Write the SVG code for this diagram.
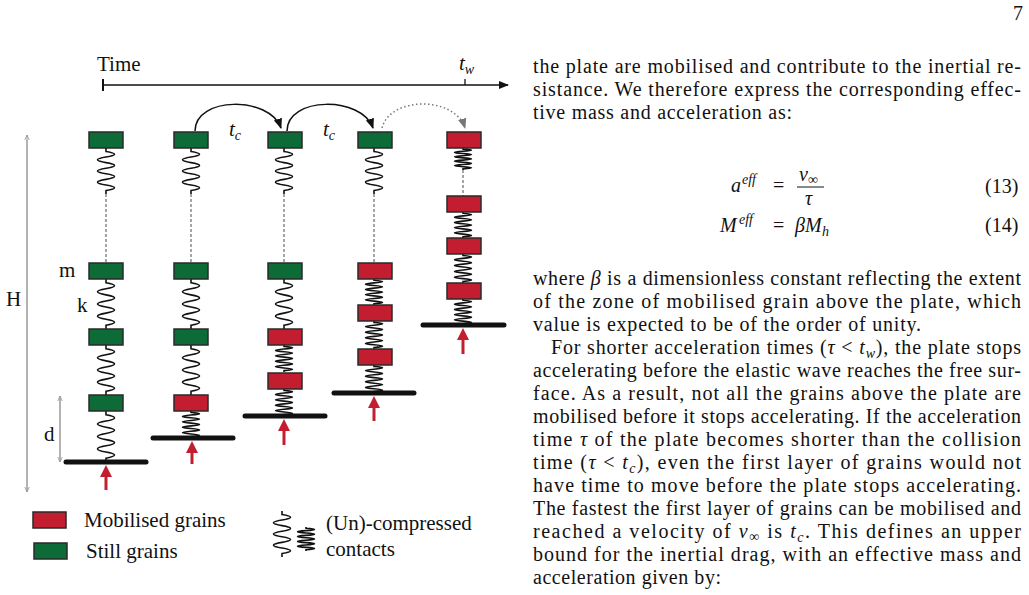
<svg xmlns="http://www.w3.org/2000/svg" width="1029" height="595" viewBox="0 0 1029 595">
<style>
.r{fill:#c21e2f;stroke:#2a2a2a;stroke-width:1.5}
.g{fill:#0d6b38;stroke:#2a2a2a;stroke-width:1.5}
.sp{fill:none;stroke:#111;stroke-width:1.6}
.ds{stroke:#777;stroke-width:1.3;stroke-dasharray:3,2}
.pl{stroke:#111;stroke-width:5;stroke-linecap:round}
.ra{stroke:#c21e2f;stroke-width:3}
.t{font-family:"Liberation Serif",serif;font-size:20px;fill:#111}
.f{font-family:"Liberation Serif",serif;font-size:21px;fill:#111}
.s{font-size:14px}
.i{font-style:italic}
</style>
<defs>
<path id="su" class="sp" vector-effect="non-scaling-stroke" d="M0,0v3q17,2.43 0,4.86q-17,2.43 0,4.86q17,2.43 0,4.86q-17,2.43 0,4.86q17,2.43 0,4.86q-17,2.43 0,4.86q17,2.43 0,4.86v3"/>
<path id="sc" class="sp" vector-effect="non-scaling-stroke" d="M0,0v2q17,2 0,4q-17,2 0,4q17,2 0,4q-17,2 0,4q17,2 0,4q-17,2 0,4q17,2 0,4q-17,2 0,4q17,2 0,4v2"/>
<marker id="ah" viewBox="0 0 10 10" refX="9" refY="5" markerWidth="7" markerHeight="7" orient="auto"><path d="M0,1L10,5L0,9z" fill="#111"/></marker>
<marker id="ag" viewBox="0 0 10 10" refX="9" refY="5" markerWidth="7" markerHeight="7" orient="auto"><path d="M0,1L10,5L0,9z" fill="#777"/></marker>
<marker id="ar" viewBox="0 0 10 10" refX="5" refY="5" markerWidth="4" markerHeight="4" orient="auto"><path d="M0,0L10,5L0,10z" fill="#c21e2f"/></marker>
<marker id="lg" viewBox="0 0 10 10" refX="9" refY="5" markerWidth="6" markerHeight="6" orient="auto"><path d="M0,1L9,5L0,9" fill="none" stroke="#888" stroke-width="1.2"/></marker>
</defs>

<g id="timeaxis">
<line x1="103" y1="85" x2="508" y2="85" stroke="#111" stroke-width="1.5" marker-end="url(#ah)"/>
<line x1="103" y1="79" x2="103" y2="91" stroke="#111" stroke-width="2"/>
<line x1="465" y1="79" x2="465" y2="85" stroke="#111" stroke-width="1.3"/>
<text class="f" x="97" y="71">Time</text>
<text class="f i" x="459" y="70">t<tspan class="s" dy="4">w</tspan></text>
</g>

<g id="dims">
<line x1="27" y1="490" x2="27" y2="135" stroke="#999" stroke-width="1" marker-end="url(#lg)"/>
<line x1="27" y1="140" x2="27" y2="492" stroke="#999" stroke-width="1" marker-end="url(#lg)"/>
<line x1="60" y1="398" x2="60" y2="462" stroke="#999" stroke-width="1" marker-end="url(#lg)"/>
<line x1="60" y1="460" x2="60" y2="396" stroke="#999" stroke-width="1" marker-end="url(#lg)"/>
<text class="f" x="6" y="306">H</text>
<text class="f" x="44" y="441">d</text>
<text class="f" x="59" y="277">m</text>
<text class="f" x="77" y="312">k</text>
</g>

<g id="connectors">
<path d="M195,131 C195,96 270,96 281,128" fill="none" stroke="#111" stroke-width="1.5" marker-end="url(#ah)"/>
<path d="M287,131 C287,96 362,96 373,128" fill="none" stroke="#111" stroke-width="1.5" marker-end="url(#ah)"/>
<path d="M382,128 C390,96 455,96 465,128" fill="none" stroke="#777" stroke-width="1.5" stroke-dasharray="1.5,2.5" marker-end="url(#ag)"/>
<text class="f i" x="229" y="136">t<tspan class="s" dy="4">c</tspan></text>
<text class="f i" x="323" y="136">t<tspan class="s" dy="4">c</tspan></text>
</g>

<g id="col1">
<use href="#su" transform="translate(106,148) scale(1,1.15)"/>
<line class="ds" x1="106" y1="194" x2="106" y2="262"/>
<use href="#su" transform="translate(106,279) scale(1,1.25)"/>
<use href="#su" transform="translate(106,345) scale(1,1.25)"/>
<use href="#su" transform="translate(106,411) scale(1,1.275)"/>
<rect class="g" x="89" y="132" width="34" height="16"/>
<rect class="g" x="89" y="263" width="34" height="16"/>
<rect class="g" x="89" y="329" width="34" height="16"/>
<rect class="g" x="89" y="395" width="34" height="16"/>
<line class="pl" x1="66" y1="462" x2="146" y2="462"/>
<line class="ra" x1="106" y1="490" x2="106" y2="471" marker-end="url(#ar)"/>
</g>

<g id="col2">
<use href="#su" transform="translate(191,148) scale(1,1.15)"/>
<line class="ds" x1="191" y1="194" x2="191" y2="262"/>
<use href="#su" transform="translate(191,279) scale(1,1.25)"/>
<use href="#su" transform="translate(191,345) scale(1,1.25)"/>
<use href="#sc" transform="translate(191,411) scale(1,0.675)"/>
<rect class="g" x="174" y="132" width="34" height="16"/>
<rect class="g" x="174" y="263" width="34" height="16"/>
<rect class="g" x="174" y="329" width="34" height="16"/>
<rect class="r" x="174" y="395" width="34" height="16"/>
<line class="pl" x1="153" y1="438" x2="233" y2="438"/>
<line class="ra" x1="192" y1="464" x2="192" y2="447" marker-end="url(#ar)"/>
</g>

<g id="col3">
<use href="#su" transform="translate(284,148) scale(1,1.15)"/>
<line class="ds" x1="284" y1="194" x2="284" y2="262"/>
<use href="#su" transform="translate(284,279) scale(1,1.25)"/>
<use href="#sc" transform="translate(284,345) scale(1,0.675)"/>
<use href="#sc" transform="translate(284,389) scale(1,0.675)"/>
<rect class="g" x="268" y="132" width="34" height="16"/>
<rect class="g" x="268" y="263" width="34" height="16"/>
<rect class="r" x="268" y="329" width="34" height="16"/>
<rect class="r" x="268" y="373" width="34" height="16"/>
<line class="pl" x1="245" y1="416" x2="325" y2="416"/>
<line class="ra" x1="284" y1="445" x2="284" y2="425" marker-end="url(#ar)"/>
</g>

<g id="col4">
<use href="#su" transform="translate(374,148) scale(1,1.15)"/>
<line class="ds" x1="374" y1="194" x2="374" y2="263"/>
<use href="#sc" transform="translate(374,279) scale(1,0.65)"/>
<use href="#sc" transform="translate(374,321) scale(1,0.7)"/>
<use href="#sc" transform="translate(374,365) scale(1,0.7)"/>
<rect class="g" x="358" y="132" width="34" height="16"/>
<rect class="r" x="358" y="263" width="34" height="16"/>
<rect class="r" x="358" y="305" width="34" height="16"/>
<rect class="r" x="358" y="349" width="34" height="16"/>
<line class="pl" x1="334" y1="393" x2="414" y2="393"/>
<line class="ra" x1="374" y1="421" x2="374" y2="402" marker-end="url(#ar)"/>
</g>

<g id="col5">
<use href="#sc" transform="translate(463,148) scale(1,0.55)"/>
<line class="ds" x1="463" y1="170" x2="463" y2="196"/>
<use href="#sc" transform="translate(463,212) scale(1,0.65)"/>
<use href="#sc" transform="translate(463,254) scale(1,0.725)"/>
<use href="#sc" transform="translate(463,299) scale(1,0.65)"/>
<rect class="r" x="447" y="132" width="34" height="16"/>
<rect class="r" x="447" y="196" width="34" height="16"/>
<rect class="r" x="447" y="238" width="34" height="16"/>
<rect class="r" x="447" y="283" width="34" height="16"/>
<line class="pl" x1="423" y1="325" x2="504" y2="325"/>
<line class="ra" x1="463" y1="354" x2="463" y2="334" marker-end="url(#ar)"/>
</g>

<g id="legend">
<rect class="r" x="33" y="512" width="33" height="16"/>
<rect class="g" x="34" y="543" width="33" height="16"/>
<text class="f" x="84" y="527">Mobilised grains</text>
<text class="f" x="86" y="558">Still grains</text>
<use href="#su" transform="translate(282,511) scale(1,1.15)"/>
<use href="#sc" transform="translate(306,527) scale(1,0.6)"/>
<text class="f" x="326" y="530">(Un)-compressed</text>
<text class="f" x="326" y="556">contacts</text>
</g>

<g id="bodytext">
<text class="t" x="1013" y="20">7</text>
<text class="t" x="533" y="73" textLength="488" lengthAdjust="spacing">the plate are mobilised and contribute to the inertial re-</text>
<text class="t" x="533" y="96" textLength="488" lengthAdjust="spacing">sistance.  We therefore express the corresponding effec-</text>
<text class="t" x="533" y="119" textLength="259" lengthAdjust="spacing">tive mass and acceleration as:</text>
<text class="t i" x="731" y="192">a</text>
<text class="t i s" x="742" y="184">eff</text>
<text class="t" x="773" y="192">=</text>
<text class="t i" x="799" y="181">v<tspan class="s" font-style="normal" dy="3">∞</tspan></text>
<line x1="797" y1="187" x2="824" y2="187" stroke="#111" stroke-width="1"/>
<text class="t i" x="805" y="205">τ</text>
<text class="t" x="985" y="193">(13)</text>
<text class="t i" x="720" y="232">M</text>
<text class="t i s" x="739" y="224">eff</text>
<text class="t" x="773" y="232">=</text>
<text class="t i" x="795" y="232">βM</text>
<text class="t i s" x="822" y="236">h</text>
<text class="t" x="985" y="232">(14)</text>
<text class="t" x="533" y="285" textLength="488" lengthAdjust="spacing">where <tspan class="i">β</tspan> is a dimensionless constant reflecting the extent</text>
<text class="t" x="533" y="308" textLength="488" lengthAdjust="spacing">of the zone of mobilised grain above the plate, which</text>
<text class="t" x="533" y="331" textLength="388" lengthAdjust="spacing">value is expected to be of the order of unity.</text>
<text class="t" x="551" y="354" textLength="470" lengthAdjust="spacing">For shorter acceleration times (<tspan class="i">τ</tspan> &lt; <tspan class="i">t</tspan><tspan class="i s" dy="4">w</tspan><tspan dy="-4">), the plate stops</tspan></text>
<text class="t" x="533" y="377" textLength="488" lengthAdjust="spacing">accelerating before the elastic wave reaches the free sur-</text>
<text class="t" x="533" y="400" textLength="488" lengthAdjust="spacing">face.  As a result, not all the grains above the plate are</text>
<text class="t" x="533" y="423" textLength="488" lengthAdjust="spacing">mobilised before it stops accelerating. If the acceleration</text>
<text class="t" x="533" y="446" textLength="488" lengthAdjust="spacing">time <tspan class="i">τ</tspan> of the plate becomes shorter than the collision</text>
<text class="t" x="533" y="469" textLength="488" lengthAdjust="spacing">time (<tspan class="i">τ</tspan> &lt; <tspan class="i">t</tspan><tspan class="i s" dy="4">c</tspan><tspan dy="-4">), even the first layer of grains would not</tspan></text>
<text class="t" x="533" y="492" textLength="488" lengthAdjust="spacing">have time to move before the plate stops accelerating.</text>
<text class="t" x="533" y="515" textLength="488" lengthAdjust="spacing">The fastest the first layer of grains can be mobilised and</text>
<text class="t" x="533" y="538" textLength="488" lengthAdjust="spacing">reached a velocity of <tspan class="i">v</tspan><tspan class="s" dy="3">∞</tspan><tspan dy="-3"> is </tspan><tspan class="i">t</tspan><tspan class="i s" dy="4">c</tspan><tspan dy="-4">.  This defines an upper</tspan></text>
<text class="t" x="533" y="561" textLength="488" lengthAdjust="spacing">bound for the inertial drag, with an effective mass and</text>
<text class="t" x="533" y="584" textLength="188" lengthAdjust="spacing">acceleration given by:</text>
</g>
</svg>
